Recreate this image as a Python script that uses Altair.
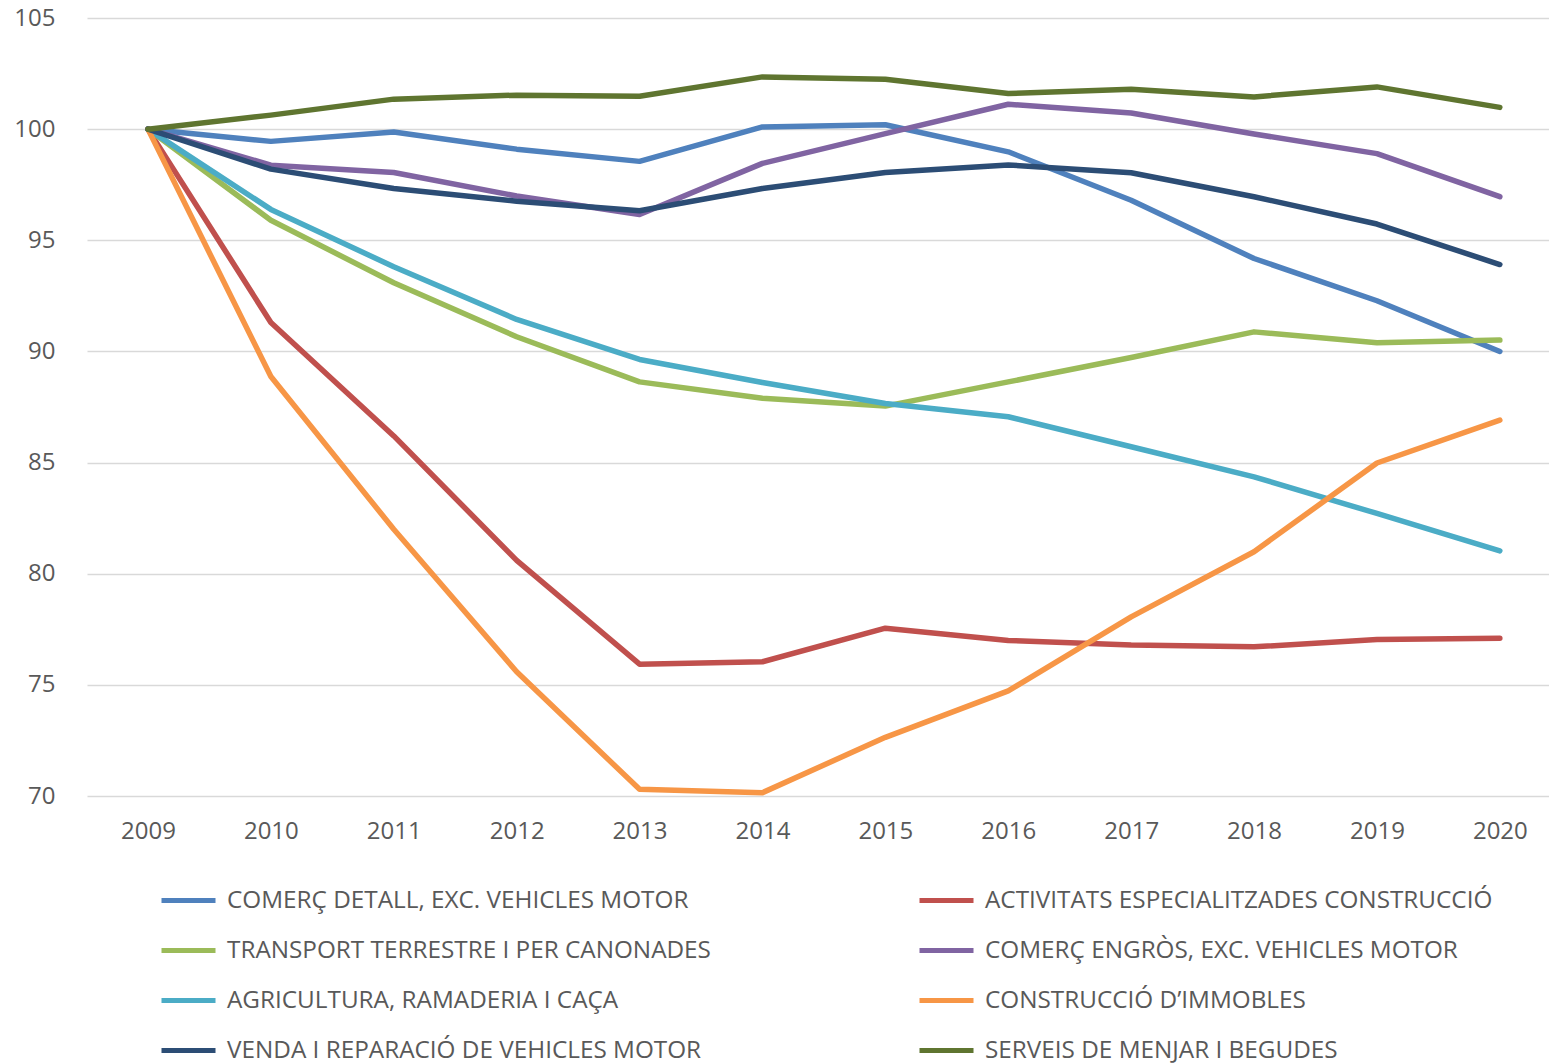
import altair as alt
import pandas as pd

years = list(range(2009, 2021))

series_names = [
    "COMERÇ DETALL, EXC. VEHICLES MOTOR",
    "ACTIVITATS ESPECIALITZADES CONSTRUCCIÓ",
    "TRANSPORT TERRESTRE I PER CANONADES",
    "COMERÇ ENGRÒS, EXC. VEHICLES MOTOR",
    "AGRICULTURA, RAMADERIA I CAÇA",
    "CONSTRUCCIÓ D’IMMOBLES",
    "VENDA I REPARACIÓ DE VEHICLES MOTOR",
    "SERVEIS DE MENJAR I BEGUDES",
]
series_colors = ["#4F81BD", "#C0504D", "#9BBB59", "#8064A2",
                 "#4BACC6", "#F79646", "#2C4D75", "#5F7530"]

# legend fills column by column: left column first, then right column
legend_order = [0, 2, 4, 6, 1, 3, 5, 7]

comerc_detall = [100, 99.45, 99.87, 99.10, 98.55, 100.10, 100.20, 98.98, 96.80, 94.18, 92.28, 90.00]
activitats    = [100, 91.30, 86.20, 80.60, 75.93, 76.04, 77.55, 77.00, 76.79, 76.71, 77.04, 77.10]
transport     = [100, 95.90, 93.09, 90.66, 88.63, 87.89, 87.54, 88.63, 89.73, 90.88, 90.39, 90.51]
engros        = [100, 98.38, 98.05, 96.99, 96.16, 98.46, 99.80, 101.12, 100.73, 99.78, 98.90, 96.96]
agricultura   = [100, 96.39, 93.81, 91.44, 89.64, 88.60, 87.66, 87.06, 85.71, 84.36, 82.71, 81.03]
construccio   = [100, 88.87, 82.00, 75.59, 70.30, 70.15, 72.64, 74.73, 78.06, 80.99, 84.98, 86.91]
venda         = [100, 98.20, 97.33, 96.76, 96.33, 97.33, 98.05, 98.39, 98.04, 96.96, 95.73, 93.91]
serveis       = [100, 100.63, 101.35, 101.53, 101.48, 102.35, 102.24, 101.60, 101.79, 101.45, 101.90, 100.98]

all_values = [comerc_detall, activitats, transport, engros,
              agricultura, construccio, venda, serveis]

y_ticks = [70, 75, 80, 85, 90, 95, 100, 105]

rows = []
for name, vals in zip(series_names, all_values):
    for yr, v in zip(years, vals):
        rows.append({"any": yr, "valor": v, "serie": name})
df = pd.DataFrame(rows)

legend_domain = [series_names[i] for i in legend_order]
legend_range = [series_colors[i] for i in legend_order]

FONT = "Open Sans"
GRAY = "#595959"

chart = alt.Chart(df).mark_line(
    strokeWidth=5.5, strokeCap="round", strokeJoin="round"
).encode(
    x=alt.X("any:Q",
            scale=alt.Scale(domain=[2008.504, 2020.40], nice=False, zero=False),
            axis=alt.Axis(values=years, format="d", title=None, grid=False,
                          domain=False, ticks=False, labelPadding=23,
                          labelFont=FONT, labelFontSize=24, labelColor=GRAY,
                          labelFlush=False, labelOverlap=False)),
    y=alt.Y("valor:Q",
            scale=alt.Scale(domain=[70, 105], nice=False, zero=False),
            axis=alt.Axis(values=y_ticks, title=None, grid=True,
                          gridColor="#D9D9D9", gridWidth=1.5,
                          domain=False, ticks=False, labelPadding=32,
                          labelFont=FONT, labelFontSize=24, labelColor=GRAY)),
    color=alt.Color("serie:N",
                    scale=alt.Scale(domain=legend_domain, range=legend_range),
                    legend=alt.Legend(
                        orient="none", legendX=72, legendY=853,
                        columns=2, columnPadding=198, rowPadding=8,
                        title=None, symbolType="stroke", symbolSize=2916,
                        symbolStrokeWidth=5, labelFont=FONT, labelFontSize=24.3,
                        labelColor=GRAY, labelLimit=800, labelOffset=9)),
    detail="serie:N",
).properties(
    width=1462, height=778,
    autosize=alt.AutoSizeParams(type="none"),
    padding={"left": 79, "top": 10, "right": 0, "bottom": 267},
).configure_view(stroke=None)

chart.save("out.html", embed_options={"renderer": "svg", "actions": False})
